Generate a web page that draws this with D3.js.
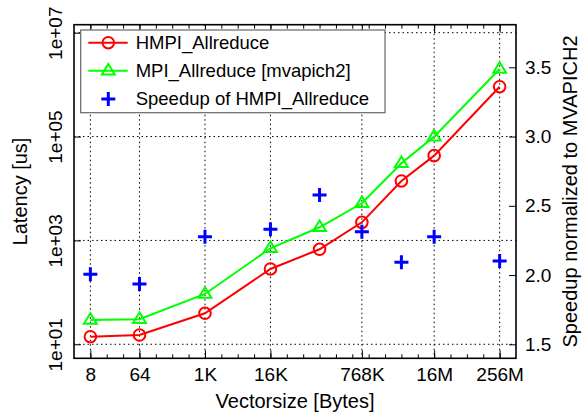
<!DOCTYPE html>
<html>
<head>
<meta charset="utf-8">
<script src="https://cdn.jsdelivr.net/npm/d3@7"></script>
<style>
  html, body { margin: 0; padding: 0; background: #fff; }
  svg { display: block; font-family: "Liberation Sans", Arial, Helvetica, sans-serif; }
</style>
</head>
<body>
<svg id="chart" width="584" height="418"></svg>
<script>
// ---- data ----
const sizes = [8, 64, 1024, 16384, 131072, 786432, 4194304, 16777216, 268435456];
const hmpiLatency = [14, 15.1, 39.5, 282, 675, 2230, 13970, 42900, 912000];
const mpiLatency = [29.4, 30.3, 93, 706, 1790, 5190, 30500, 99600, 2.0e6];
const speedup = [2.005, 1.935, 2.277, 2.33, 2.578, 2.313, 2.092, 2.277, 2.101];

const xTickValues = [8, 64, 1024, 16384, 786432, 16777216, 268435456];
const xTickLabels = ["8", "64", "1K", "16K", "768K", "16M", "256M"];
const yTickValues = [1e1, 1e3, 1e5, 1e7];
const yTickLabels = ["1e+01", "1e+03", "1e+05", "1e+07"];
const y2TickValues = [1.5, 2.0, 2.5, 3.0, 3.5];
const y2TickLabels = ["1.5", "2.0", "2.5", "3.0", "3.5"];
const seriesNames = ["HMPI_Allreduce", "MPI_Allreduce [mvapich2]", "Speedup of HMPI_Allreduce"];

// ---- layout ----
const L = 74, R = 516, T = 24.7, B = 358.3;
const svg = d3.select("#chart");

const x = d3.scaleLog().base(2).domain([4, Math.pow(2, 29)]).range([L, R]);
const y = d3.scaleLog().domain([Math.pow(10, 0.730), Math.pow(10, 7.154)]).range([B, T]);
const y2 = d3.scaleLinear().domain([1.399, 3.8076]).range([B, T]);

// grid
const grid = svg.append("g").attr("stroke", "#000").attr("stroke-width", 1).attr("stroke-dasharray", "1.5,3");
xTickValues.forEach(v => {
  grid.append("line").attr("x1", x(v)).attr("x2", x(v)).attr("y1", T).attr("y2", B);
});
yTickValues.forEach(v => {
  grid.append("line").attr("x1", L).attr("x2", R).attr("y1", y(v)).attr("y2", y(v));
});

// minor x ticks (every power of two)
const minorX = d3.range(3, 29).map(e => Math.pow(2, e));

// bottom axis
const xAxis = d3.axisBottom(x).tickValues(xTickValues)
  .tickFormat((d, i) => xTickLabels[i]).tickSizeInner(-8).tickSizeOuter(0).tickPadding(9);
const gx = svg.append("g").attr("transform", `translate(0,${B})`).call(xAxis);
gx.select(".domain").remove();
gx.selectAll("text").attr("font-size", 19).attr("fill", "#000").attr("font-family", "Liberation Sans, Arial, sans-serif");
gx.selectAll("line").attr("stroke", "#000");
const xMinorAxis = d3.axisBottom(x).tickValues(minorX).tickFormat("").tickSizeInner(-4).tickSizeOuter(0);
const gxm = svg.append("g").attr("transform", `translate(0,${B})`).call(xMinorAxis);
gxm.select(".domain").remove();
// top mirrored ticks
const xTop = d3.axisTop(x).tickValues(xTickValues).tickFormat("").tickSizeInner(-8).tickSizeOuter(0);
const gxt = svg.append("g").attr("transform", `translate(0,${T})`).call(xTop);
gxt.select(".domain").remove();
const xTopMinor = d3.axisTop(x).tickValues(minorX).tickFormat("").tickSizeInner(-4).tickSizeOuter(0);
const gxtm = svg.append("g").attr("transform", `translate(0,${T})`).call(xTopMinor);
gxtm.select(".domain").remove();

// left axis
const yAxis = d3.axisLeft(y).tickValues(yTickValues).tickFormat((d, i) => yTickLabels[i])
  .tickSizeInner(-7).tickSizeOuter(0).tickPadding(0);
const gy = svg.append("g").attr("transform", `translate(${L},0)`).call(yAxis);
gy.select(".domain").remove();
gy.selectAll("text")
  .attr("x", null).attr("dy", null)
  .attr("text-anchor", "middle")
  .attr("transform", "translate(-12,0) rotate(-90)")
  .attr("font-size", 19).attr("fill", "#000");

// right axis
const y2Axis = d3.axisRight(y2).tickValues(y2TickValues).tickFormat((d, i) => y2TickLabels[i])
  .tickSizeInner(-7).tickSizeOuter(0).tickPadding(9);
const gy2 = svg.append("g").attr("transform", `translate(${R},0)`).call(y2Axis);
gy2.select(".domain").remove();
gy2.selectAll("text").attr("font-size", 19).attr("fill", "#000");

// frame
svg.append("rect").attr("x", L).attr("y", T).attr("width", R - L).attr("height", B - T)
  .attr("fill", "none").attr("stroke", "#000").attr("stroke-width", 1.6);

// axis titles
svg.append("text").attr("x", (L + R) / 2).attr("y", 408).attr("text-anchor", "middle")
  .attr("font-size", 20).text("Vectorsize [Bytes]");
svg.append("text").attr("transform", `translate(27,${(T + B) / 2}) rotate(-90)`).attr("text-anchor", "middle")
  .attr("font-size", 20).text("Latency [us]");
svg.append("text").attr("transform", `translate(577,${(T + B) / 2}) rotate(-90)`).attr("text-anchor", "middle")
  .attr("font-size", 20).text("Speedup normalized to MVAPICH2");

// marker helpers
function circle(g, cx, cy, color) {
  g.append("circle").attr("cx", cx).attr("cy", cy).attr("r", 5.8)
    .attr("fill", "none").attr("stroke", color).attr("stroke-width", 2);
}
function triangle(g, cx, cy, color) {
  const s = 6.8;
  const pts = [[cx, cy - s], [cx - s * 0.95, cy + s * 0.55], [cx + s * 0.95, cy + s * 0.55]];
  g.append("path").attr("d", "M" + pts.map(p => p.join(",")).join("L") + "Z")
    .attr("fill", "none").attr("stroke", color).attr("stroke-width", 2);
}
function plus(g, cx, cy, color) {
  const s = 7;
  g.append("path").attr("d", `M${cx - s},${cy}H${cx + s}M${cx},${cy - s}V${cy + s}`)
    .attr("stroke", color).attr("stroke-width", 3).attr("fill", "none");
}

const data = sizes.map((s, i) => ({ s, h: hmpiLatency[i], m: mpiLatency[i], sp: speedup[i] }));
const plot = svg.append("g");

// green series
plot.append("path").datum(data)
  .attr("d", d3.line().x(d => x(d.s)).y(d => y(d.m)))
  .attr("fill", "none").attr("stroke", "#00ff00").attr("stroke-width", 2);
data.forEach(d => triangle(plot, x(d.s), y(d.m), "#00ff00"));
// red series
plot.append("path").datum(data)
  .attr("d", d3.line().x(d => x(d.s)).y(d => y(d.h)))
  .attr("fill", "none").attr("stroke", "#ff0000").attr("stroke-width", 2);
data.forEach(d => circle(plot, x(d.s), y(d.h), "#ff0000"));
// speedup
data.forEach(d => plus(plot, x(d.s), y2(d.sp), "#0000ff"));

// legend
const lg = svg.append("g");
lg.append("rect").attr("x", 80.7).attr("y", 30).attr("width", 304.3).attr("height", 82.7)
  .attr("fill", "#fff").attr("stroke", "#666").attr("stroke-width", 1.2);
const rowsY = [42.7, 70.7, 99];
const colors = ["#ff0000", "#00ff00", "#0000ff"];
rowsY.forEach((ry, i) => {
  if (i < 2) {
    lg.append("line").attr("x1", 88.3).attr("x2", 127.7).attr("y1", ry).attr("y2", ry)
      .attr("stroke", colors[i]).attr("stroke-width", 2);
  }
  if (i === 0) circle(lg, 108.3, ry, colors[i]);
  if (i === 1) triangle(lg, 108.3, ry, colors[i]);
  if (i === 2) plus(lg, 108.3, ry, colors[i]);
  lg.append("text").attr("x", 135.7).attr("y", ry).attr("dy", "0.35em")
    .attr("font-size", 18.5).text(seriesNames[i]);
});
</script>
</body>
</html>
